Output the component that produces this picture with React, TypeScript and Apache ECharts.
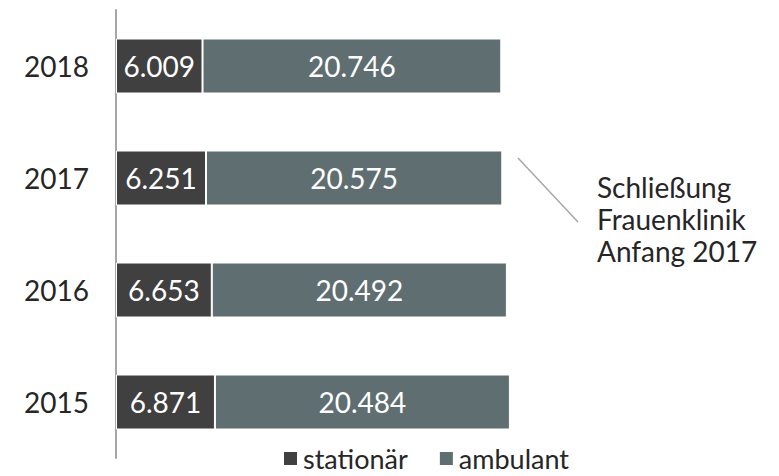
import React, { useEffect, useRef } from "react";
import * as echarts from "echarts";

const years = ["2015", "2016", "2017", "2018"];
const stationaer = [6871, 6653, 6251, 6009];
const ambulant = [20484, 20492, 20575, 20746];
const seriesNames = ["stationär", "ambulant"];
const annotation = "Schließung\nFrauenklinik\nAnfang 2017";

const FONT = "Lato, 'Noto Sans', sans-serif";
const fmt = (v: number) => v.toLocaleString("de-DE");

export default function App() {
  const ref = useRef<HTMLDivElement>(null);
  useEffect(() => {
    if (!ref.current) return;
    const chart = echarts.init(ref.current, undefined, { renderer: "svg" });
    const labelStyle = {
      show: true,
      position: "inside" as const,
      color: "#ffffff",
      fontSize: 28,
      fontFamily: FONT,
      formatter: (p: any) => fmt(p.value),
    };
    chart.setOption({
      animation: false,
      backgroundColor: "#ffffff",
      textStyle: { fontFamily: FONT },
      grid: { left: 116, top: 10, bottom: 18, width: 432, containLabel: false },
      xAxis: {
        type: "value",
        min: 0,
        max: 30000,
        show: false,
      },
      yAxis: {
        type: "category",
        data: years,
        axisLine: { show: true, lineStyle: { color: "#a6a6a6", width: 2 } },
        axisTick: { show: false },
        axisLabel: { color: "#262626", fontSize: 28, fontFamily: FONT, margin: 27 },
      },
      legend: {
        data: seriesNames,
        left: 282,
        top: 445,
        padding: 0,
        icon: "rect",
        itemWidth: 15,
        itemHeight: 15,
        itemGap: 30,
        textStyle: { color: "#262626", fontSize: 27, lineHeight: 26, fontFamily: FONT },
      },
      series: [
        {
          name: seriesNames[0],
          type: "bar",
          stack: "total",
          data: stationaer,
          barWidth: 55,
          itemStyle: { color: "#404040", borderColor: "#ffffff", borderWidth: 1 },
          label: labelStyle,
        },
        {
          name: seriesNames[1],
          type: "bar",
          stack: "total",
          data: ambulant,
          barWidth: 55,
          itemStyle: { color: "#5f6e70", borderColor: "#ffffff", borderWidth: 1 },
          label: labelStyle,
        },
      ],
      graphic: [
        {
          type: "line",
          shape: { x1: 518, y1: 158, x2: 578, y2: 222 },
          style: { stroke: "#a6a6a6", lineWidth: 1.5 },
        },
        {
          type: "text",
          x: 597,
          y: 171,
          style: {
            text: annotation,
            fontSize: 28,
            fontFamily: FONT,
            fill: "#262626",
            lineHeight: 32,
          },
        },
      ],
    });
    return () => chart.dispose();
  }, []);
  return (
    <div
      ref={ref}
      style={{ position: "fixed", left: 0, top: 0, width: 779, height: 476 }}
    />
  );
}
